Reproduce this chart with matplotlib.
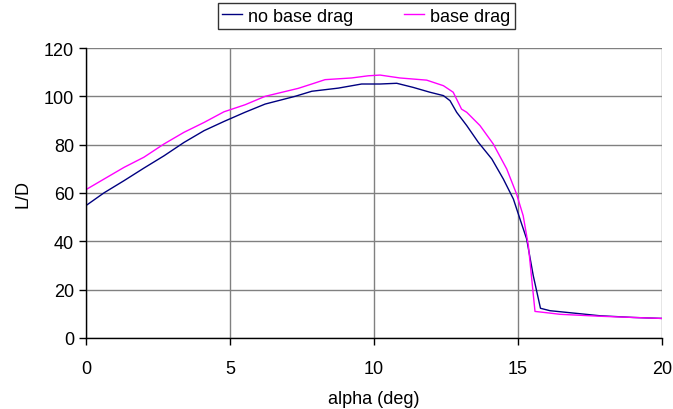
import matplotlib
matplotlib.use('Agg')
import matplotlib.pyplot as plt

plt.rcParams['font.family'] = ['Liberation Sans', 'DejaVu Sans']
plt.rcParams['font.size'] = 13

# no base drag
alpha_nb = [0, 0.63, 1.32, 2.01, 2.71, 3.40, 4.10, 4.79, 5.52, 6.22, 7.26, 7.84,
            8.76, 9.57, 10.21, 10.79, 11.36, 11.94, 12.41, 12.64, 12.87, 13.22,
            13.62, 14.09, 14.49, 14.84, 15.07, 15.30, 15.53, 15.78, 16.11, 16.69,
            17.85, 19.0, 20.0]
ld_nb = [54.8, 60.1, 65.1, 70.3, 75.4, 80.9, 85.8, 89.6, 93.4, 96.8, 100.0, 102.1,
         103.4, 105.1, 105.1, 105.4, 103.7, 101.7, 100.3, 98.2, 93.4, 87.9,
         81.0, 74.1, 65.8, 57.5, 49.2, 41.0, 25.8, 12.3, 11.3, 10.6,
         9.2, 8.5, 8.1]

# base drag
alpha_bd = [0, 0.63, 1.32, 2.01, 2.71, 3.40, 4.10, 4.79, 5.52, 6.22, 7.37, 7.84,
            8.30, 9.22, 9.80, 10.21, 10.90, 11.83, 12.41, 12.75, 13.04, 13.22,
            13.68, 14.14, 14.61, 14.95, 15.18, 15.36, 15.59, 16.11, 16.46, 17.85,
            19.0, 20.0]
ld_bd = [61.4, 65.8, 70.6, 74.8, 80.3, 85.1, 89.2, 93.6, 96.5, 100.0, 103.3, 105.1,
         106.9, 107.6, 108.5, 108.8, 107.6, 106.7, 104.4, 101.7, 94.7, 93.4,
         87.9, 80.3, 69.9, 59.6, 50.6, 38.2, 11.0, 10.3, 9.8, 9.0,
         8.5, 8.1]

fig = plt.figure(figsize=(6.73, 4.10), dpi=100)
ax = fig.add_axes([86 / 673, 1 - 339 / 410, 576 / 673, 290 / 410])

ax.plot(alpha_nb, ld_nb, color='#000080', linewidth=1.0, label='no base drag')
ax.plot(alpha_bd, ld_bd, color='#FF00FF', linewidth=1.0, label='base drag')

ax.set_xlim(0, 20)
ax.set_ylim(0, 120)
ax.set_xticks([0, 5, 10, 15, 20])
ax.set_yticks(range(0, 121, 20))
ax.grid(True, color='#808080', linewidth=1.0)
ax.set_axisbelow(True)
for s in ['top', 'right']:
    ax.spines[s].set_visible(False)
for s in ['left', 'bottom']:
    ax.spines[s].set_color('black')
    ax.spines[s].set_linewidth(1.0)
ax.tick_params(direction='out', length=5, width=1, colors='black', labelsize=13)
ax.tick_params(axis='x', pad=11)

ax.set_xlabel('alpha (deg)', fontsize=13, labelpad=9)
ax.set_ylabel('L/D', fontsize=13, labelpad=9)

leg = fig.legend(loc='center', bbox_to_anchor=(366.5 / 673, 1 - 17 / 410), ncol=2,
                 fontsize=13, frameon=True, fancybox=False, handlelength=1.1,
                 handletextpad=0.35, columnspacing=2.8, borderpad=0.25,
                 borderaxespad=0)
leg.get_frame().set_edgecolor('black')
leg.get_frame().set_linewidth(1.0)

fig.savefig('out.png', dpi=100)
